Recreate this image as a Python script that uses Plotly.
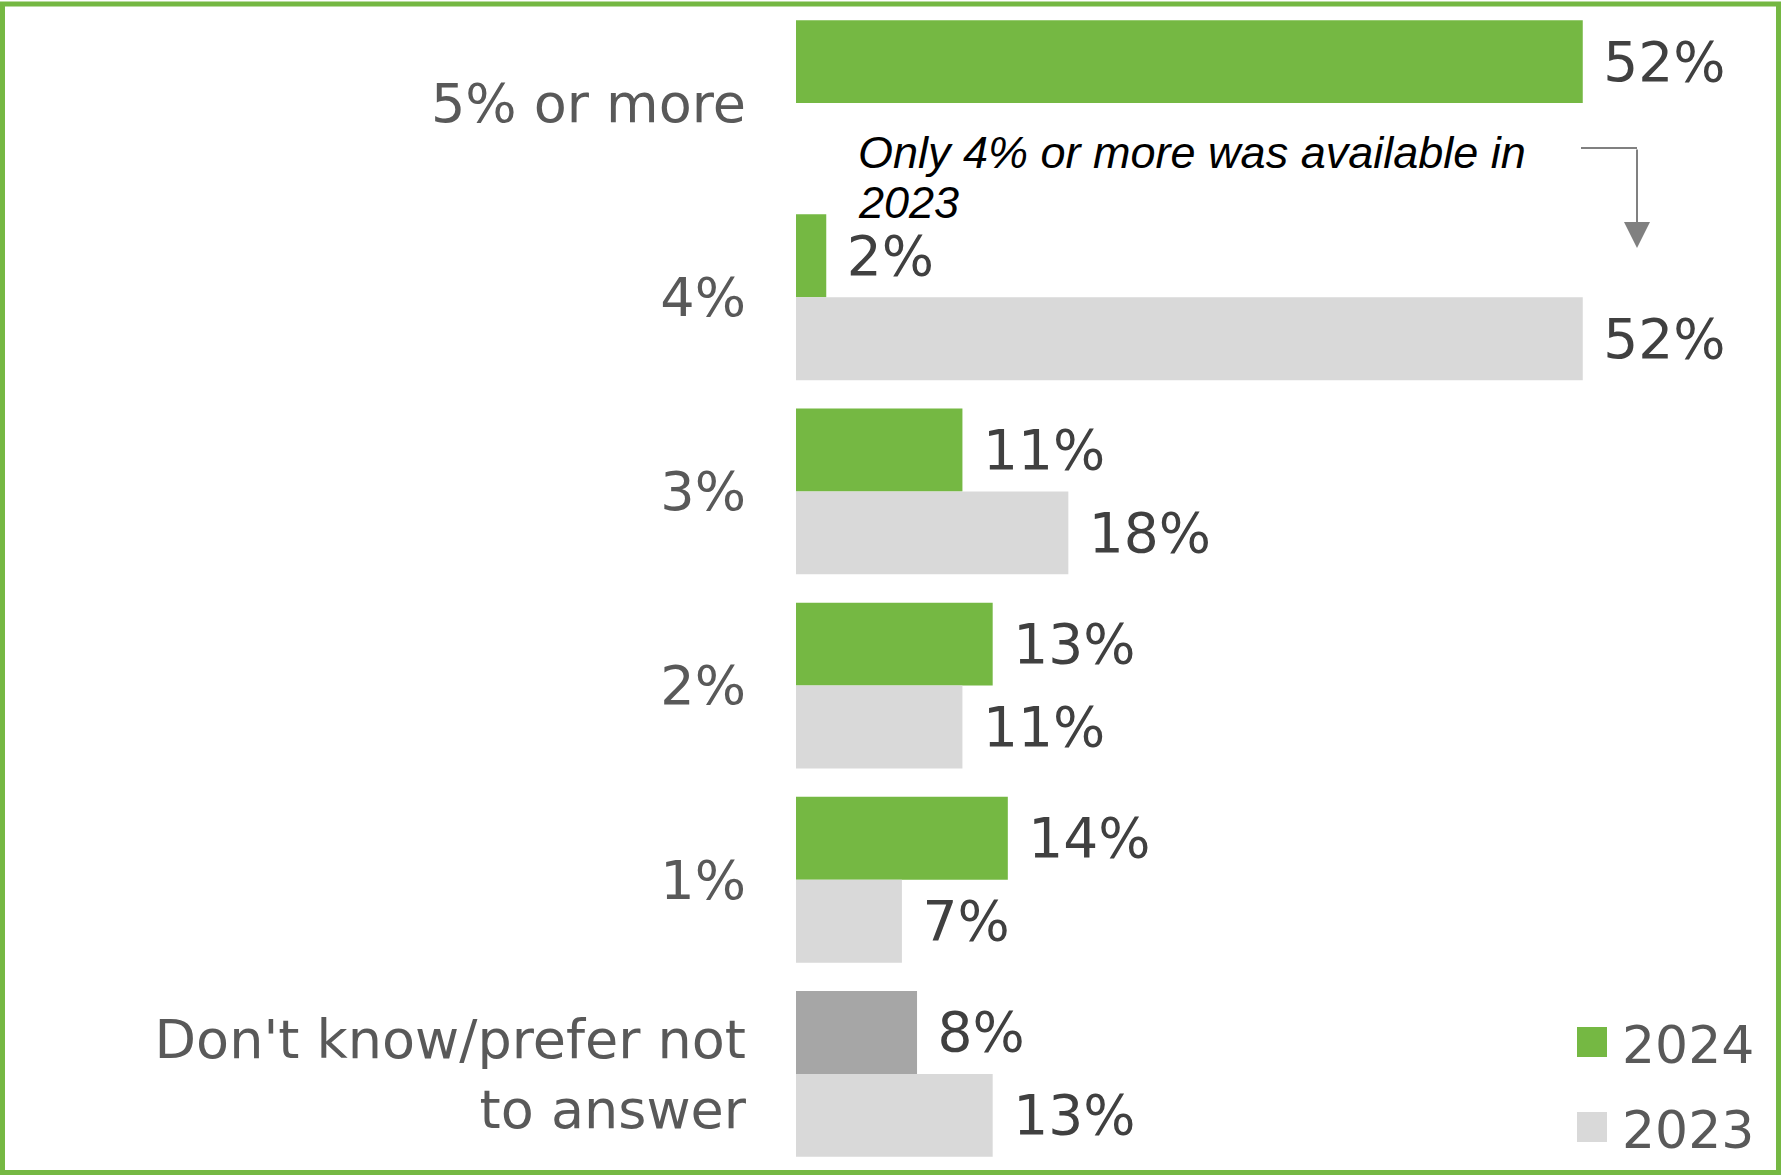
import plotly.graph_objects as go

# Survey response categories, top to bottom
categories = ["5% or more", "4%", "3%", "2%", "1%", "Don't know/prefer not<br>to answer"]

# Share of respondents (%) per year; 5% or more was not an option in 2023
values_2024 = [52, 2, 11, 13, 14, 8]
values_2023 = [None, 52, 18, 11, 7, 13]

series_names = ["2024", "2023"]

note_lines = ["Only 4% or more was available in", "2023"]

GREEN = "#75B843"
LIGHT_GREY = "#D9D9D9"
DARK_GREY = "#A6A6A6"
LABEL_GREY = "#595959"
VALUE_GREY = "#404040"
FONT = "DejaVu Sans"

W, H = 1783, 1176
M_L, M_R, M_T, M_B = 796, 19, 6, 5
PW = W - M_L - M_R
PH = H - M_T - M_B


def px_x(px):
    return (px - M_L) / PW


def px_y(py):
    return (H - M_B - py) / PH


def pct_text(vals):
    return ["\u00a0" + f"{v}%" if v is not None else "" for v in vals]


colors_2024 = [DARK_GREY if c.startswith("Don't") else GREEN for c in categories]

fig = go.Figure()
fig.add_trace(go.Bar(
    name=series_names[0], y=categories, x=values_2024, orientation="h",
    marker=dict(color=colors_2024, line=dict(width=0)),
    text=pct_text(values_2024), textposition="outside",
    textfont=dict(family=FONT, size=55, color=VALUE_GREY),
    constraintext="none", cliponaxis=False, showlegend=False,
))
fig.add_trace(go.Bar(
    name=series_names[1], y=categories, x=values_2023, orientation="h",
    marker=dict(color=LIGHT_GREY, line=dict(width=0)),
    text=pct_text(values_2023), textposition="outside",
    textfont=dict(family=FONT, size=55, color=VALUE_GREY),
    constraintext="none", cliponaxis=False, showlegend=False,
))

fig.update_layout(
    width=W, height=H,
    margin=dict(l=M_L, r=M_R, t=M_T, b=M_B, autoexpand=False),
    barmode="group", bargap=0.146, bargroupgap=0,
    plot_bgcolor="white", paper_bgcolor="white",
    showlegend=False,
    xaxis=dict(range=[0, PW / 15.13], visible=False, fixedrange=True),
    yaxis=dict(
        type="category", range=[len(categories) - 0.5, -0.5],
        showgrid=False, zeroline=False, showline=False, ticks="",
        tickfont=dict(family=FONT, size=54, color=LABEL_GREY),
        ticklabelstandoff=49,
    ),
)

# Outer frame
fig.add_shape(type="rect", xref="paper", yref="paper",
              x0=px_x(2.5), x1=px_x(1778.5), y0=px_y(1172.5), y1=px_y(4),
              line=dict(color=GREEN, width=5), fillcolor="rgba(0,0,0,0)", layer="above")

# Note about the 2023 answer options, with an elbow arrow
for line, cy in zip(note_lines, [152, 203]):
    fig.add_annotation(
        xref="paper", yref="paper", x=px_x(856), y=px_y(cy),
        xanchor="left", yanchor="middle", align="left", showarrow=False,
        text=line,
        font=dict(family="Liberation Sans", size=45, color="black", style="italic"),
    )
fig.add_shape(type="line", xref="paper", yref="paper",
              x0=px_x(1581), x1=px_x(1637), y0=px_y(148), y1=px_y(148),
              line=dict(color="#808080", width=2))
fig.add_annotation(
    xref="paper", yref="paper", x=px_x(1637), y=px_y(248),
    ax=0, ay=-100, text="", showarrow=True,
    arrowhead=2, arrowsize=2.6, arrowwidth=2, arrowcolor="#808080",
)

# Legend swatches and labels
legend_colors = [GREEN, LIGHT_GREY]
legend_centers = [1042, 1127]
for name, col, cy in zip(series_names, legend_colors, legend_centers):
    fig.add_shape(type="rect", xref="paper", yref="paper",
                  x0=px_x(1577), x1=px_x(1607), y0=px_y(cy + 15), y1=px_y(cy - 15),
                  fillcolor=col, line=dict(width=0))
    fig.add_annotation(xref="paper", yref="paper", x=px_x(1620), y=px_y(cy + 3),
                       xanchor="left", yanchor="middle", showarrow=False, text=name,
                       font=dict(family=FONT, size=52, color=LABEL_GREY))

fig.write_html("out.html")
